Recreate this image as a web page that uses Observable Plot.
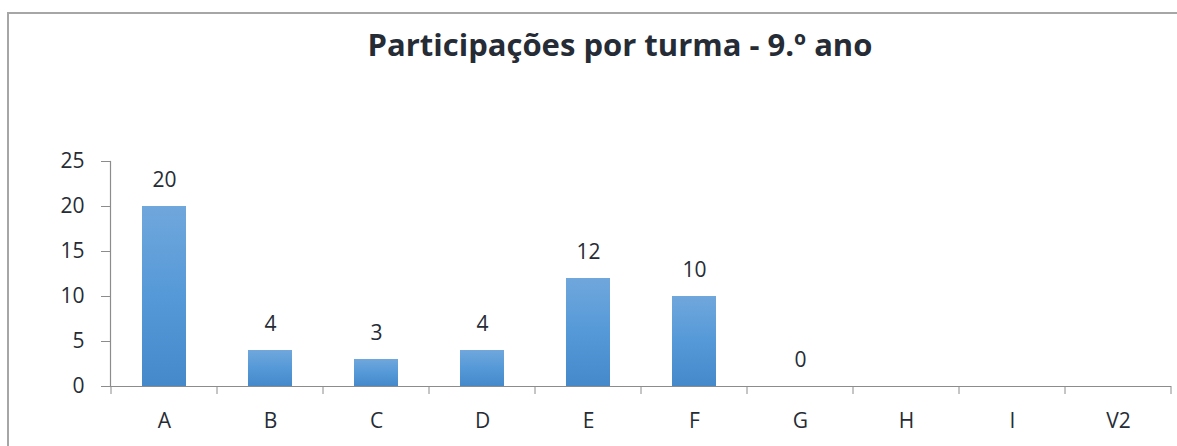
<!DOCTYPE html>
<html>
<head>
<meta charset="utf-8">
<script src="https://cdn.jsdelivr.net/npm/d3@7"></script>
<script src="https://cdn.jsdelivr.net/npm/@observablehq/plot@0.6"></script>
<style>
  html, body { margin: 0; padding: 0; background: #fff; }
  body { width: 1177px; height: 446px; position: relative; overflow: hidden; font-family: "Open Sans", sans-serif; }
  #frame { position: absolute; left: 7px; top: 12px; width: 1200px; height: 500px; border-left: 2px solid #a6a6a6; border-top: 2px solid #a6a6a6; box-sizing: border-box; }
  #title { position: absolute; left: 0; width: 1240px; top: 22px; text-align: center; font-weight: 700; font-size: 31px; color: #262c35; line-height: 44px; }
  #chart { position: absolute; left: 0; top: 100px; }
</style>
</head>
<body>
<div id="frame"></div>
<div id="title">Participações por turma - 9.º ano</div>
<div id="chart"></div>
<script>
const categories = ["A", "B", "C", "D", "E", "F", "G", "H", "I", "V2"];
const values = [20, 4, 3, 4, 12, 10, 0, null, null, null];
const yTicks = [0, 5, 10, 15, 20, 25];

const data = categories.map((c, i) => ({turma: c, valor: values[i]}));
const withValue = data.filter(d => d.valor != null);

function gradientDefs() {
  const ns = "http://www.w3.org/2000/svg";
  const defs = document.createElementNS(ns, "defs");
  defs.innerHTML = `
    <linearGradient id="barGrad" x1="0" y1="0" x2="0" y2="1">
      <stop offset="0" stop-color="#70a7dc"/>
      <stop offset="0.5" stop-color="#5599d8"/>
      <stop offset="1" stop-color="#4689cb"/>
    </linearGradient>
    <filter id="barShadow" x="-30%" y="-10%" width="160%" height="130%">
      <feGaussianBlur in="SourceAlpha" stdDeviation="2.2"/>
      <feOffset dx="1" dy="1" result="b"/>
      <feComponentTransfer><feFuncA type="linear" slope="0.35"/></feComponentTransfer>
      <feMerge><feMergeNode/><feMergeNode in="SourceGraphic"/></feMerge>
    </filter>`;
  return defs;
}

function bandTicks(index, scales, values, dims) {
  const ns = "http://www.w3.org/2000/svg";
  const g = document.createElementNS(ns, "g");
  const x = scales.x;
  const step = typeof x.step === "function" ? x.step() : x.step;
  const bw = typeof x.bandwidth === "function" ? x.bandwidth() : x.bandwidth;
  const y0 = dims.height - dims.marginBottom;
  const bounds = categories.map(c => x(c) - (step - bw) / 2);
  bounds.push(bounds[bounds.length - 1] + step);
  for (const b of bounds) {
    const l = document.createElementNS(ns, "line");
    l.setAttribute("x1", b); l.setAttribute("x2", b);
    l.setAttribute("y1", y0); l.setAttribute("y2", y0 + 8);
    l.setAttribute("stroke", "#8c8c8c");
    l.setAttribute("stroke-width", 1);
    g.appendChild(l);
  }
  return g;
}

const plot = Plot.plot({
  width: 1177,
  height: 346,
  marginLeft: 110,
  marginRight: 6,
  marginTop: 61,
  marginBottom: 60,
  style: {fontFamily: "'Open Sans', sans-serif", fontSize: "21px", color: "#262c35", background: "transparent", overflow: "visible"},
  x: {domain: categories, paddingInner: 0.585, paddingOuter: 0.2925, label: null},
  y: {domain: [0, 25], label: null},
  marks: [
    gradientDefs,
    Plot.barY(withValue, {x: "turma", y: "valor", fill: "url(#barGrad)", filter: d => d.valor > 0, style: {filter: "url(#barShadow)"}}),
    Plot.ruleY([0], {stroke: "#8c8c8c", strokeWidth: 1.2}),
    Plot.frame({anchor: "left", stroke: "#8c8c8c", strokeWidth: 1.2}),
    Plot.axisY({ticks: yTicks, tickSize: 9, tickPadding: 17, stroke: "#8c8c8c", fill: "#262c35", fontSize: 21, label: null}),
    Plot.axisX({tickSize: 0, tickPadding: 27, fill: "#262c35", fontSize: 21, label: null}),
    bandTicks,
    Plot.text(withValue, {x: "turma", y: "valor", text: d => String(d.valor), dy: -26, fill: "#262c35", fontSize: 21})
  ]
});
document.getElementById("chart").appendChild(plot);
</script>
</body>
</html>
